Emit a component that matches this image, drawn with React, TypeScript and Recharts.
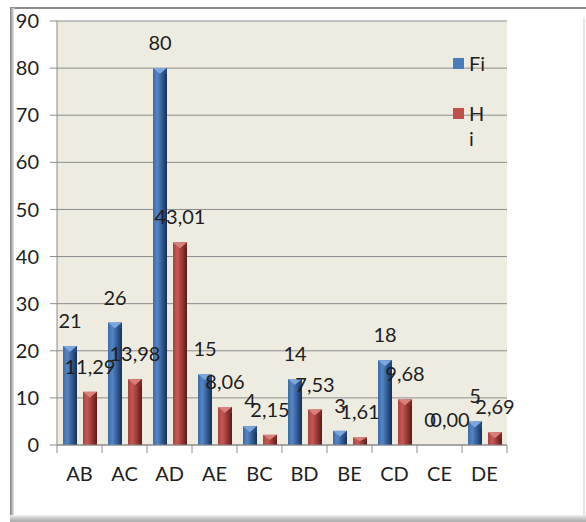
import React from "react";
import { Bar, BarChart, CartesianGrid, LabelList, XAxis, YAxis } from "recharts";

const categories = ["AB", "AC", "AD", "AE", "BC", "BD", "BE", "CD", "CE", "DE"];
const fiValues = [21, 26, 80, 15, 4, 14, 3, 18, 0, 5];
const hiValues = [11.29, 13.98, 43.01, 8.06, 2.15, 7.53, 1.61, 9.68, 0.0, 2.69];
const yTicks = [0, 10, 20, 30, 40, 50, 60, 70, 80, 90];

const data = categories.map((name, i) => ({ name, fi: fiValues[i], hi: hiValues[i] }));

const W = 586;
const H = 522;
const M = { top: 21, right: 79, left: 0, bottom: 0 };
const Y_AXIS_W = 57;
const X_AXIS_H = 77;
const plotW = W - M.left - M.right - Y_AXIS_W;
const band = plotW / categories.length;

const FONT = "Lato, 'Liberation Sans', sans-serif";
const TXT = "#1e1e1e";
const FS = 20;

function BevelBar(props: any) {
	const { x, y, width, height, fill } = props;
	if (!height || height <= 0) return null;
	const cap = Math.min(6, height / 2);
	const id = fill === "blue" ? "gBlue" : "gRed";
	const capColor = fill === "blue" ? "#7da6dd" : "#d9807d";
	const capDark = fill === "blue" ? "#2d558c" : "#8a2f2c";
	return (
		<g>
			<rect x={x} y={y} width={width} height={height} fill={`url(#${id})`} />
			<polygon points={`${x},${y} ${x + width},${y} ${x + width / 2},${y + cap}`} fill={capColor} />
			<polygon points={`${x + width},${y} ${x + width / 2},${y + cap} ${x + width},${y + cap}`} fill={capDark} opacity={0.6} />
		</g>
	);
}

function CatTick(props: any) {
	const { x, y, payload, index } = props;
	const last = index === categories.length - 1;
	return (
		<g>
			<line x1={x - band / 2} y1={y - 8} x2={x - band / 2} y2={y} stroke="#8c8c8c" />
			{last && <line x1={x + band / 2} y1={y - 8} x2={x + band / 2} y2={y} stroke="#8c8c8c" />}
			<text x={x} y={y + 20} textAnchor="middle" dominantBaseline="central" fontSize={FS} fontFamily={FONT} fill={TXT}>
				{payload.value}
			</text>
		</g>
	);
}

const legendItems = [
	{ name: "Fi", color: "#4a7dbf" },
	{ name: "Hi", color: "#c0504d" },
];

function ChartLegend() {
	return (
		<div style={{ position: "absolute", left: 453, top: 51, fontFamily: FONT, fontSize: FS, color: TXT, lineHeight: "25px" }}>
			{legendItems.map((it, i) => (
				<div key={it.name} style={{ display: "flex", alignItems: "flex-start", marginBottom: i === 0 ? 25 : 0 }}>
					<span style={{ width: 11, height: 11, background: it.color, marginTop: 7, marginRight: 5, flex: "none" }} />
					<span style={{ width: 17, wordBreak: "break-all" }}>{it.name}</span>
				</div>
			))}
		</div>
	);
}

export default function App() {
	return (
		<div style={{ position: "absolute", left: 0, top: 0, width: W, height: H, background: "#fff" }}>
			<div style={{ position: "absolute", left: 10, top: 7, width: W - 10, height: 2, background: "#8d8d8d" }} />
			<div style={{ position: "absolute", left: 10, top: 8, width: 4, height: H - 8, background: "linear-gradient(to right, #7a7a7a, #b5b5b5, #e5e5e5)" }} />
			<div style={{ position: "absolute", left: 10, top: 515, width: W - 10, height: 7, background: "linear-gradient(to bottom, #f2f2f2, #c8c8c8, #a8a8a8)" }} />
			<div style={{ position: "absolute", left: 583, top: 18, width: 2, height: 497, background: "#e6e6e6" }} />
			<div style={{ position: "absolute", left: 0, top: 0 }}>
				<BarChart width={W} height={H} data={data} margin={M} barSize={14} barGap={6}>
					<defs>
						<linearGradient id="gBlue" x1="0" y1="0" x2="1" y2="0">
							<stop offset="0" stopColor="#3c6aa6" />
							<stop offset="0.3" stopColor="#5686c6" />
							<stop offset="0.65" stopColor="#315b93" />
							<stop offset="1" stopColor="#182f50" />
						</linearGradient>
						<linearGradient id="gRed" x1="0" y1="0" x2="1" y2="0">
							<stop offset="0" stopColor="#a64441" />
							<stop offset="0.3" stopColor="#c75855" />
							<stop offset="0.65" stopColor="#983835" />
							<stop offset="1" stopColor="#551b19" />
						</linearGradient>
					</defs>
					<CartesianGrid vertical={false} stroke="#8c8c8c" fill="#eeece1" />
					<XAxis
						dataKey="name"
						height={X_AXIS_H}
						stroke="#8c8c8c"
						tickLine={false}
						tick={<CatTick />}
						interval={0}
					/>
					<YAxis
						width={Y_AXIS_W}
						domain={[0, 90]}
						ticks={yTicks}
						stroke="#8c8c8c"
						tickSize={7}
						tickMargin={11}
						tick={{ fontSize: FS, fontFamily: FONT, fill: TXT }}
					/>
					<Bar dataKey="fi" name="Fi" fill="blue" shape={<BevelBar />} isAnimationActive={false}>
						<LabelList dataKey="fi" position="top" offset={18} fontSize={FS} fontFamily={FONT} fill={TXT} />
					</Bar>
					<Bar dataKey="hi" name="Hi" fill="red" shape={<BevelBar />} isAnimationActive={false}>
						<LabelList
							dataKey="hi"
							position="top"
							offset={18}
							fontSize={FS}
							fontFamily={FONT}
							fill={TXT}
							formatter={(v: any) => Number(v).toFixed(2).replace(".", ",")}
						/>
					</Bar>
				</BarChart>
			</div>
			<ChartLegend />
		</div>
	);
}
